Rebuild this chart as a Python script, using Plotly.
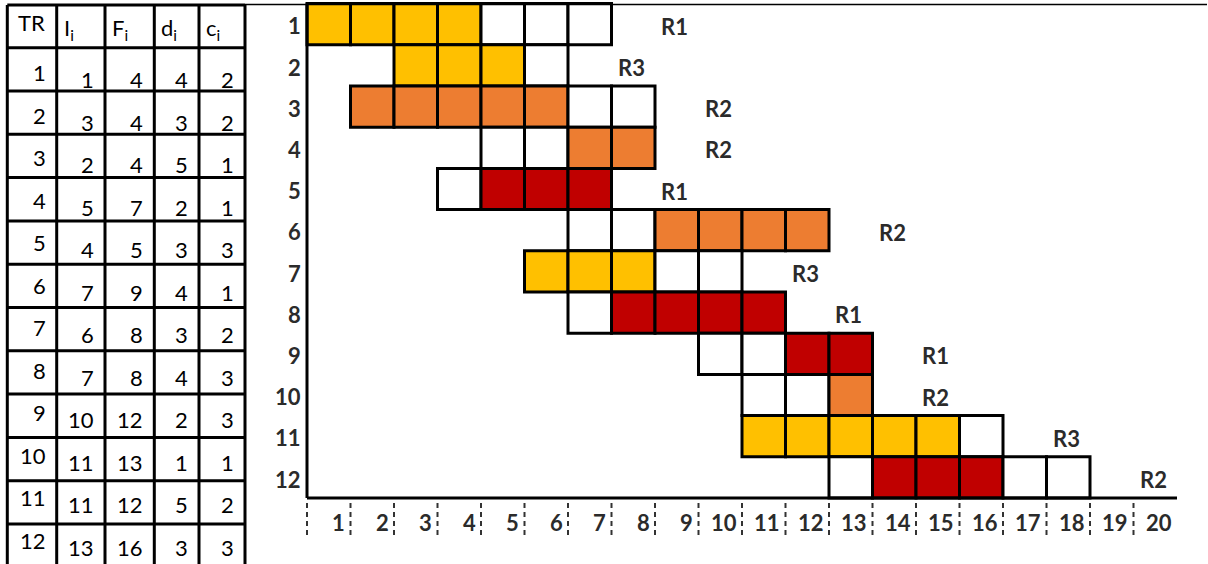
import plotly.graph_objects as go

# ---------------- data ----------------
TR = [1, 2, 3, 4, 5, 6, 7, 8, 9, 10, 11, 12]
I_start = [1, 3, 2, 5, 4, 7, 6, 7, 10, 11, 11, 13]
F_end = [4, 4, 4, 7, 5, 9, 8, 8, 12, 13, 12, 16]
d_dur = [4, 3, 5, 2, 3, 4, 3, 4, 2, 1, 5, 3]
c_cls = [2, 2, 1, 1, 3, 1, 2, 3, 3, 1, 2, 3]
sched_start = [1, 3, 2, 7, 5, 9, 6, 8, 12, 13, 11, 14]
resource = ["R1", "R3", "R2", "R2", "R1", "R2", "R3", "R1", "R1", "R2", "R3", "R2"]
x_tick_labels = [str(k) for k in range(1, 21)]
header = ["TR", "I<sub>i</sub>", "F<sub>i</sub>", "d<sub>i</sub>", "c<sub>i</sub>"]

# ---------------- style ----------------
W, H = 1208, 564
class_colors = {1: "#ED7D31", 2: "#FFC000", 3: "#C00000"}
LBL_FONT = dict(family="Lato", size=22, color="#2b2b2b", weight="bold")
TBL_FONT = dict(family="Lato", size=22, color="#000000")
BORDER = 3

# grid axis geometry (pixel mapping)
X0_PX, COL_PX = 307.0, 43.5
Y0_PX, ROW_PX = 3.6, 41.2
GRID_LEFT_PX = 250.0
x_range = [(GRID_LEFT_PX - X0_PX) / COL_PX, (W - X0_PX) / COL_PX]
y_range = [0.5 + (H - Y0_PX) / ROW_PX, 0.5 - Y0_PX / ROW_PX]

# table geometry
tbl_cols = [7.3, 56.7, 105.0, 154.3, 199.0, 245.0]
tbl_top, tbl_head_bottom, tbl_row_h = 5.0, 47.7, 43.3
txt_pitch = 42.5
tr_txt_first, val_txt_first = 72.5, 79.5

fig = go.Figure()

# ---------------- grid cells ----------------
ys, xs, bases, cols = [], [], [], []
for i, row in enumerate(TR):
    last = F_end[i] + d_dur[i] - 1
    for col in range(I_start[i], last + 1):
        busy = sched_start[i] <= col < sched_start[i] + d_dur[i]
        ys.append(row)
        xs.append(1)
        bases.append(col - 1)
        cols.append(class_colors[c_cls[i]] if busy else "#FFFFFF")

fig.add_trace(go.Bar(
    orientation="h", y=ys, x=xs, base=bases, width=1,
    marker=dict(color=cols, line=dict(color="black", width=BORDER)),
    hoverinfo="skip", showlegend=False, xaxis="x", yaxis="y"))

shapes = []
annotations = []

# axis lines
shapes.append(dict(type="line", xref="x", yref="y", x0=0, x1=0, y0=0.5, y1=12.5,
                   line=dict(color="black", width=BORDER)))
shapes.append(dict(type="line", xref="x", yref="y", x0=0, x1=20, y0=12.5, y1=12.5,
                   line=dict(color="black", width=BORDER)))
# dashed tick marks
for k in range(0, 20):
    shapes.append(dict(type="line", xref="x", yref="y", x0=k, x1=k, y0=12.62, y1=13.45,
                       line=dict(color="#333333", width=2, dash="5px,4px")))
# top thin border
shapes.append(dict(type="line", xref="paper", yref="paper", x0=245 / W, x1=1207 / W,
                   y0=1 - 4.5 / H, y1=1 - 4.5 / H, line=dict(color="black", width=1.5)))

# row labels
for row in TR:
    annotations.append(dict(x=-0.1, y=row + 0.04, xref="x", yref="y", text=str(row),
                            showarrow=False, xanchor="right", yanchor="middle", font=LBL_FONT))
# x tick labels
for k, lab in enumerate(x_tick_labels, start=1):
    annotations.append(dict(x=k - 0.08, y=13.1, xref="x", yref="y", text=lab,
                            showarrow=False, xanchor="right", yanchor="middle", font=LBL_FONT))
# resource labels
for i, row in enumerate(TR):
    last = F_end[i] + d_dur[i] - 1
    annotations.append(dict(x=last + 1.45, y=row + 0.05, xref="x", yref="y", text=resource[i],
                            showarrow=False, xanchor="center", yanchor="middle", font=LBL_FONT))

# ---------------- table ----------------
n_rows = len(TR)
row_tops = [tbl_head_bottom + tbl_row_h * r for r in range(n_rows + 1)]
h_lines = [tbl_top] + row_tops
for yv in h_lines:
    shapes.append(dict(type="line", xref="x2", yref="y2", x0=tbl_cols[0], x1=tbl_cols[-1],
                       y0=yv, y1=yv, line=dict(color="black", width=BORDER)))
for xv in tbl_cols:
    shapes.append(dict(type="line", xref="x2", yref="y2", x0=xv, x1=xv,
                       y0=tbl_top, y1=h_lines[-1], line=dict(color="black", width=BORDER)))

head_mid = (tbl_top + tbl_head_bottom) / 2
for j, htxt in enumerate(header):
    annotations.append(dict(x=tbl_cols[j] + (9 if j == 0 else 5),
                            y=head_mid + (-4 if j == 0 else 3),
                            xref="x2", yref="y2", text=htxt, showarrow=False,
                            xanchor="left", yanchor="middle", font=TBL_FONT))

table_cols = [TR, I_start, F_end, d_dur, c_cls]
for r in range(n_rows):
    for j, colvals in enumerate(table_cols):
        yv = (tr_txt_first if j == 0 else val_txt_first) + txt_pitch * r
        annotations.append(dict(x=tbl_cols[j + 1] - 9, y=yv,
                                xref="x2", yref="y2", text=str(colvals[r]), showarrow=False,
                                xanchor="right", yanchor="middle", font=TBL_FONT))

fig.update_layout(
    width=W, height=H, margin=dict(l=0, r=0, t=0, b=0),
    paper_bgcolor="white", plot_bgcolor="white",
    barmode="overlay", showlegend=False,
    xaxis=dict(domain=[GRID_LEFT_PX / W, 1], range=x_range, visible=False, fixedrange=True),
    yaxis=dict(domain=[0, 1], range=y_range, visible=False, fixedrange=True),
    xaxis2=dict(domain=[0, GRID_LEFT_PX / W], range=[0, GRID_LEFT_PX], visible=False,
                anchor="y2", fixedrange=True),
    yaxis2=dict(domain=[0, 1], range=[H, 0], visible=False, anchor="x2", fixedrange=True),
    shapes=shapes, annotations=annotations,
)

fig.write_html("out.html", config={"displayModeBar": False},
               post_script="document.body.style.margin='0';document.body.style.overflow='hidden';")
